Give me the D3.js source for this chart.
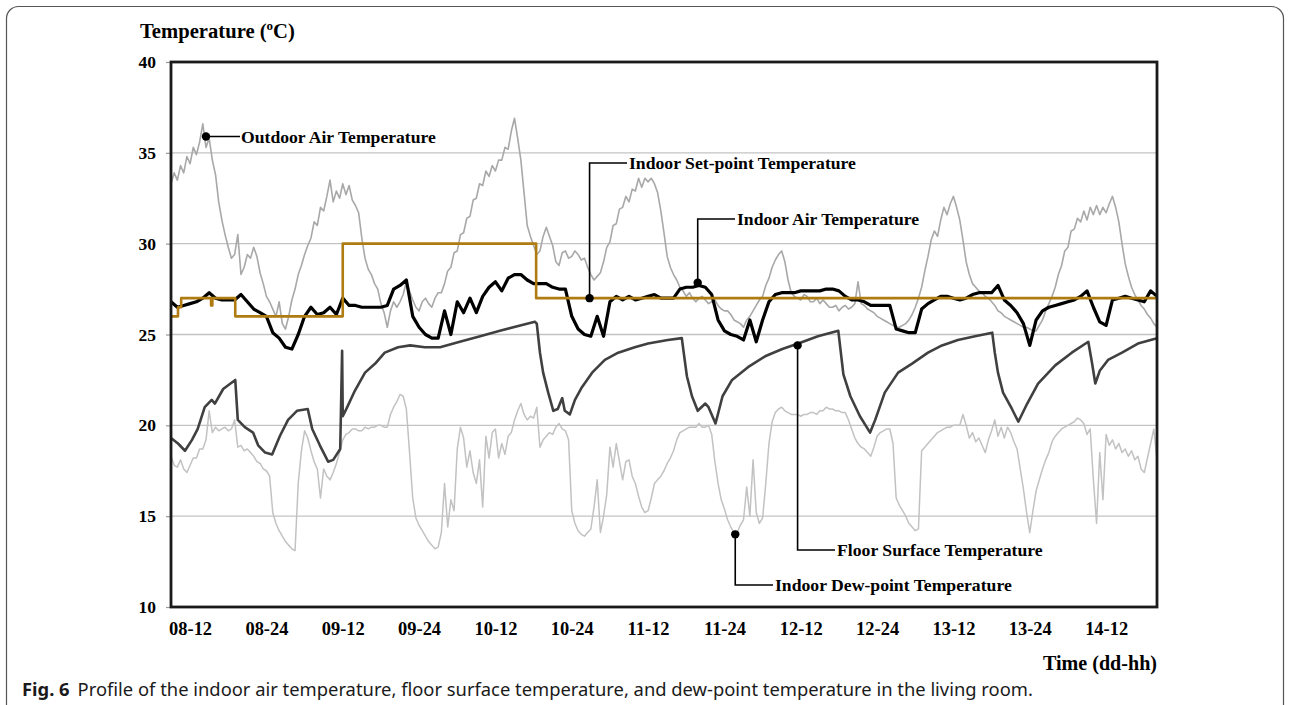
<!DOCTYPE html>
<html>
<head>
<meta charset="utf-8">
<script src="https://cdn.jsdelivr.net/npm/d3@7"></script>
<style>
  html, body { margin: 0; padding: 0; background: #ffffff; }
  svg { display: block; }
</style>
</head>
<body>
<svg id="chart" width="1290" height="705"></svg>
<script>
// ---------------- DATA ----------------
// hour 0 = day 08, 00h ; plotted span 08-09h .. 14-20h
const sampleStart = 9;
const sampleEnd = 164;

// outdoor air temperature, every 0.5 h from hour 9 to hour 164
const outdoorTemp = [
  33.3, 33.9, 33.5, 34.3, 33.9, 34.8, 34.4, 35.3, 34.9, 35.6, 36.6, 35.3,
  35.8, 34.6, 33.8, 32.3, 31.3, 30.5, 29.8, 29.2, 29.4, 30.5, 28.3, 28.7,
  29.4, 29.2, 29.8, 29.3, 28.4, 27.8, 27.1, 26.8, 26.4, 26.0, 26.8, 25.6,
  25.3, 26.0, 26.9, 27.5, 28.3, 28.8, 29.4, 29.9, 30.3, 31.2, 31.0, 32.0,
  31.8, 32.6, 33.5, 32.3, 32.9, 32.5, 33.3, 32.7, 33.2, 32.4, 32.1, 31.7,
  30.3, 29.2, 28.6, 28.3, 27.8, 27.5, 26.7, 26.2, 25.4, 26.3, 26.8, 26.5,
  26.8, 27.2, 27.9, 27.4, 26.9, 26.5, 26.3, 26.8, 27.0, 26.7, 26.5, 27.0,
  27.3, 27.3, 27.8, 28.5, 28.7, 29.5, 29.6, 30.5, 30.6, 31.4, 31.5, 32.4,
  32.5, 33.3, 33.2, 34.0, 33.7, 34.3, 34.0, 34.6, 34.6, 35.3, 35.2, 36.2,
  36.9, 35.8, 34.6, 32.8, 31.0, 30.4, 29.9, 29.4, 29.6, 30.4, 30.9, 30.4,
  29.9, 29.0, 28.8, 29.5, 29.6, 29.2, 29.3, 29.6, 29.4, 29.1, 29.2, 28.7,
  28.3, 28.0, 28.2, 28.4, 29.0, 29.8, 30.1, 31.0, 31.1, 31.9, 32.0, 32.6,
  32.3, 33.0, 32.9, 33.6, 33.1, 33.6, 33.4, 33.6, 33.3, 32.8, 31.8, 30.6,
  29.3, 28.7, 28.3, 28.0, 27.6, 27.4, 27.1, 27.3, 27.0, 26.8, 27.0, 27.1,
  26.9, 26.7, 26.8, 26.9, 26.6, 26.4, 26.3, 26.3, 26.1, 25.8, 25.7, 25.6,
  25.4, 25.8, 26.0, 26.3, 26.6, 26.9, 27.1, 27.7, 28.1, 28.7, 29.1, 29.4,
  29.6, 29.0, 28.0, 27.3, 27.1, 27.0, 26.9, 27.2, 27.1, 26.8, 26.8, 27.0,
  26.7, 26.9, 26.7, 26.5, 26.5, 26.6, 26.3, 26.5, 26.6, 26.4, 26.5, 26.7,
  27.9, 26.7, 26.6, 26.4, 26.3, 26.2, 26.0, 25.9, 25.8, 25.7, 25.6, 25.5,
  25.4, 25.4, 25.5, 25.6, 25.8, 26.1, 26.5, 27.0, 27.6, 28.5, 29.3, 30.2,
  30.7, 30.4, 31.3, 32.0, 31.6, 32.2, 32.6, 32.0, 31.3, 30.2, 29.0, 28.3,
  27.8, 27.6, 27.4, 27.3, 27.1, 27.0, 26.8, 26.6, 26.3, 26.2, 26.0, 25.9,
  25.8, 25.7, 25.6, 25.5, 25.4, 25.4, 25.3, 25.2, 25.2, 25.5, 25.8, 26.3,
  26.7, 27.1, 27.6, 28.3, 28.8, 29.6, 29.8, 30.7, 30.8, 31.4, 31.2, 31.8,
  31.3, 32.0, 31.6, 32.1, 31.6, 32.0, 31.7, 32.2, 32.6, 32.0, 31.2, 30.0,
  28.9, 28.2, 27.6, 27.2, 26.9, 26.6, 26.4, 26.1, 25.9, 25.6, 25.4
];

// indoor dew-point temperature, every 0.5 h from hour 9 to hour 164
const dewPointTemp = [
  18.3, 17.8, 17.7, 18.1, 17.6, 17.4, 17.8, 18.2, 18.2, 18.7, 18.7, 19.2,
  20.8, 19.6, 19.9, 19.7, 19.8, 19.9, 19.7, 19.8, 20.3, 18.8, 18.9, 18.6,
  18.7, 18.5, 18.3, 18.0, 17.9, 17.6, 17.5, 17.2, 15.2, 14.6, 14.2, 13.9,
  13.6, 13.4, 13.2, 13.1, 16.8, 18.6, 19.7, 19.3, 18.6, 18.0, 17.6, 16.0,
  17.6, 17.2, 17.0, 17.4, 17.9, 18.5, 19.2, 19.5, 19.6, 19.8, 19.8, 19.7,
  19.7, 19.9, 19.8, 19.9, 19.9, 20.0, 20.0, 19.9, 19.9, 20.6, 21.0, 21.3,
  21.7, 21.6, 20.9, 18.5, 16.0, 14.9, 14.5, 14.2, 13.9, 13.6, 13.4, 13.2,
  13.3, 14.1, 16.8, 14.4, 15.9, 15.3, 18.7, 19.9, 19.3, 17.7, 18.6, 17.4,
  16.8, 18.1, 15.5, 19.4, 18.2, 19.6, 19.8, 18.2, 19.0, 18.4, 19.4, 19.6,
  20.3, 20.8, 21.2, 20.6, 20.3, 20.5, 20.4, 21.0, 18.8, 19.2, 19.4, 19.6,
  19.5, 19.9, 20.1, 19.8, 19.7, 19.2, 15.3, 14.6, 14.2, 14.0, 13.9, 14.1,
  14.3, 15.5, 17.0, 14.1, 15.0, 16.2, 18.8, 17.7, 19.0, 18.0, 17.0, 18.0,
  18.1, 17.2, 16.8, 16.1, 15.5, 15.2, 15.3, 16.0, 16.8, 17.0, 17.2, 17.5,
  17.9, 18.2, 18.6, 19.2, 19.6, 19.7, 19.8, 19.9, 19.9, 19.9, 20.1, 19.9,
  19.9, 20.0, 19.5, 18.0, 16.8, 15.9, 15.4, 14.8, 14.4, 14.1, 14.1, 14.5,
  14.8, 16.6, 15.0, 18.1, 15.2, 14.6, 14.9, 16.8, 19.0, 20.2, 20.7, 20.9,
  21.0, 20.8, 20.7, 20.6, 20.6, 20.6, 20.5, 20.6, 20.6, 20.7, 20.7, 20.6,
  20.8, 20.8, 21.0, 20.9, 20.9, 20.8, 20.8, 20.7, 20.7, 20.3, 19.8, 19.3,
  19.0, 18.8, 18.7, 18.5, 18.3, 18.8, 19.4, 19.6, 19.7, 19.8, 19.8, 19.0,
  16.0, 15.6, 15.3, 15.0, 14.6, 14.4, 14.2, 14.3, 18.6, 18.8, 19.0, 19.2,
  19.4, 19.6, 19.7, 19.8, 19.9, 19.9, 20.0, 20.0, 20.0, 20.6, 20.0, 19.3,
  19.6, 19.1, 19.3, 18.9, 18.5, 19.2, 19.7, 20.3, 19.4, 19.9, 19.3, 19.9,
  19.6, 19.1, 18.7, 17.6, 16.5, 15.2, 14.1, 15.3, 16.4, 17.0, 17.6, 18.1,
  18.5, 19.1, 19.4, 19.6, 19.8, 19.9, 20.0, 20.1, 20.2, 20.4, 20.3, 20.1,
  19.5, 19.8, 17.0, 14.6, 18.5, 15.9, 19.5, 18.9, 19.2, 18.7, 19.0, 18.5,
  18.7, 18.3, 18.6, 18.1, 18.3, 17.6, 17.4, 18.2, 19.0, 19.8, 18.1
];

// indoor air temperature, hourly from hour 9 to hour 164
const indoorAirTemp = [
  26.8, 26.5, 26.6, 26.7, 26.8, 27.0, 27.3, 27.0, 26.9, 26.9, 26.9, 27.2,
  26.8, 26.4, 26.2, 26.0, 25.1, 24.8, 24.3, 24.2, 25.0, 26.0, 26.5, 26.1,
  26.2, 26.5, 26.1, 27.0, 26.6, 26.6, 26.5, 26.5, 26.5, 26.5, 26.6, 27.5,
  27.7, 28.0, 26.0, 25.4, 25.0, 24.8, 24.8, 26.3, 25.0, 26.8, 26.2, 27.0,
  26.2, 27.1, 27.6, 27.9, 27.4, 28.1, 28.3, 28.3, 28.0, 27.8, 27.8, 27.8,
  27.6, 27.5, 27.5, 26.0, 25.3, 25.0, 24.9, 26.0, 24.9, 26.8, 27.1, 26.9,
  27.1, 26.9, 27.0, 27.1, 27.2, 27.0, 27.0, 27.0, 27.5, 27.6, 27.6, 27.7,
  27.6, 27.2, 25.8, 25.2, 25.0, 24.9, 24.7, 25.8, 24.6, 25.8, 26.8, 27.2,
  27.3, 27.3, 27.3, 27.4, 27.4, 27.4, 27.4, 27.5, 27.5, 27.4, 27.1, 26.9,
  26.9, 26.8, 26.6, 26.6, 26.6, 26.6, 25.3, 25.2, 25.1, 25.1, 26.4, 26.7,
  26.9, 27.1, 27.1, 27.0, 26.9, 27.0, 27.2, 27.3, 27.3, 27.3, 27.7, 26.9,
  26.6, 26.2, 25.6, 24.4, 25.8, 26.3, 26.5, 26.6, 26.7, 26.8, 26.9, 27.1,
  27.4, 26.5, 25.7, 25.5, 26.9, 27.0, 27.1, 27.0, 26.9, 26.8, 27.4, 27.1
];

const floorHours = [
  9.0, 10.1, 11.2, 12.3, 13.2, 14.3, 15.4, 15.9, 17.2, 19.1, 19.5, 20.6, 21.9, 22.7, 23.8, 24.9,
  26.1, 27.4, 28.8, 30.5, 31.2, 32.4, 33.7, 34.5, 35.6, 35.9, 36.0, 36.7, 37.9, 39.5, 41.1, 42.6,
  44.7, 46.6, 48.9, 51.3, 54.4, 57.6, 60.7, 63.9, 66.2, 66.5, 67.0, 67.5, 68.3, 69.1, 69.8, 70.5,
  70.9, 71.7, 72.5, 73.6, 75.2, 77.2, 79.3, 81.9, 84.0, 87.1, 89.3, 89.6, 90.1, 90.9, 91.8, 93.0,
  93.5, 94.6, 95.7, 97.2, 99.7, 102.4, 105.1, 107.6, 110.7, 113.9, 114.2, 114.7, 115.8, 117.3, 118.9, 119.7,
  121.2, 123.3, 125.5, 128.0, 130.2, 132.7, 135.4, 138.1, 138.5, 139.0, 139.8, 141.2, 142.2, 143.6, 145.3, 148.0,
  150.6, 153.2, 153.8, 154.3, 155.0, 156.3, 158.5, 161.0, 164.0
];
const floorTemp = [
  19.3, 19.0, 18.6, 19.2, 19.8, 21.0, 21.4, 21.2, 22.0, 22.5, 20.3, 19.9, 19.6, 18.9, 18.5, 18.4,
  19.4, 20.3, 20.8, 20.9, 19.8, 18.9, 18.0, 18.1, 18.7, 24.1, 20.5, 21.0, 21.9, 22.9, 23.4, 24.0,
  24.3, 24.4, 24.3, 24.3, 24.6, 24.9, 25.2, 25.5, 25.7, 25.6, 24.0, 22.9, 21.8, 20.8, 20.9, 21.5,
  20.8, 20.6, 21.4, 22.1, 22.9, 23.6, 24.0, 24.3, 24.5, 24.7, 24.8, 24.0, 22.7, 21.6, 20.8, 21.2,
  21.0, 20.1, 21.6, 22.5, 23.2, 23.8, 24.2, 24.5, 24.9, 25.2, 24.3, 22.8, 21.6, 20.5, 19.6, 20.3,
  21.8, 22.9, 23.4, 24.0, 24.4, 24.7, 24.9, 25.1, 24.0, 22.9, 21.8, 20.9, 20.2, 21.2, 22.3, 23.3,
  24.0, 24.6, 23.4, 22.3, 23.0, 23.6, 24.0, 24.5, 24.8
];

const setPointHours = [9, 10.1, 10.6, 15.3, 15.5, 19.1, 36.0, 66.4, 164];
const setPointTemp  = [26, 26.5, 27, 26.6, 27, 26, 30, 27, 27];

const yTickValues = [10, 15, 20, 25, 30, 35, 40];
const xTickHours  = [12, 24, 36, 48, 60, 72, 84, 96, 108, 120, 132, 144, 156];
const xTickLabels = ["08-12", "08-24", "09-12", "09-24", "10-12", "10-24", "11-12",
                     "11-24", "12-12", "12-24", "13-12", "13-24", "14-12"];

const seriesNames = ["Outdoor Air Temperature", "Indoor Set-point Temperature",
  "Indoor Air Temperature", "Floor Surface Temperature", "Indoor Dew-point Temperature"];

// ---------------- LAYOUT ----------------
(function () {
const svg = d3.select("#chart");
const pLeft = 171, pRight = 1157, pTop = 62, pBottom = 607;
const serif = "'Liberation Serif', 'Times New Roman', Times, serif";
const sans = "'Noto Sans', 'Open Sans', Arial, sans-serif";

const x = d3.scaleLinear().domain([sampleStart, sampleEnd]).range([pLeft, pRight]);
const y = d3.scaleLinear().domain([10, 40]).range([pBottom, pTop]);

function fitWidth(sel, w) {
  const cur = sel.node().getComputedTextLength();
  const fs = parseFloat(sel.attr("font-size"));
  const nfs = fs * w / cur;
  sel.attr("font-size", nfs.toFixed(2));
  return nfs;
}

// outer rounded frame
svg.append("rect").attr("x", 6.5).attr("y", 6.5).attr("width", 1277).attr("height", 740)
  .attr("rx", 12).attr("fill", "none").attr("stroke", "#555").attr("stroke-width", 1.2);

// gridlines
svg.append("g").selectAll("line").data(yTickValues.filter(v => v > 10 && v < 40)).join("line")
  .attr("x1", pLeft).attr("x2", pRight)
  .attr("y1", d => y(d)).attr("y2", d => y(d))
  .attr("stroke", "#c3c3c3").attr("stroke-width", 1.3);

// y axis
const yAxis = svg.append("g").attr("transform", `translate(${pLeft},0)`)
  .call(d3.axisLeft(y).tickValues(yTickValues).tickSize(5).tickPadding(10));
yAxis.select(".domain").remove();
yAxis.selectAll(".tick line").attr("stroke", "#999").attr("stroke-width", 1.2);
yAxis.selectAll(".tick text").attr("font-family", serif).attr("font-weight", "bold")
  .attr("font-size", 17.5).attr("fill", "#000");

// x labels
const xAxis = svg.append("g").attr("transform", `translate(0,${pBottom})`)
  .call(d3.axisBottom(x).tickValues(xTickHours).tickFormat((d, i) => xTickLabels[i]).tickSize(0).tickPadding(15));
xAxis.select(".domain").remove();
const xl = xAxis.selectAll(".tick text").attr("font-family", serif).attr("font-weight", "bold")
  .attr("font-size", 17).attr("fill", "#000");
const xfs = fitWidth(d3.select(xl.nodes()[0]), 43);
xl.attr("font-size", xfs.toFixed(2));

// ---------------- SERIES ----------------
const hourly = d3.range(sampleStart, sampleEnd + 1);
const halfHourly = d3.range(sampleStart * 2, sampleEnd * 2 + 1).map(v => v / 2);
const plot = svg.append("g");

function drawSeries(hours, vals, color, width, curve) {
  const gen = d3.line().x(d => x(d[0])).y(d => y(d[1])).curve(curve || d3.curveLinear);
  plot.append("path")
    .datum(hours.map((h, i) => [h, vals[i]]))
    .attr("d", gen)
    .attr("fill", "none").attr("stroke", color).attr("stroke-width", width)
    .attr("stroke-linejoin", "round");
}
drawSeries(halfHourly, outdoorTemp, "#a8a8a8", 1.6);
drawSeries(halfHourly, dewPointTemp, "#c2c2c2", 1.5);
drawSeries(floorHours, floorTemp, "#404040", 2.6);
drawSeries(hourly, indoorAirTemp, "#000000", 3.2);
drawSeries(setPointHours, setPointTemp, "#b07b10", 2.6, d3.curveStepAfter);

// plot frame
svg.append("rect").attr("x", pLeft).attr("y", pTop).attr("width", pRight - pLeft).attr("height", pBottom - pTop)
  .attr("fill", "none").attr("stroke", "#1a1a1a").attr("stroke-width", 2.8);

// ---------------- ANNOTATIONS ----------------
// [series index, anchor hour, anchor temp, elbow y (px) or null, label x, label y, label width]
const notes = [
  [0, 14.5, 35.9, null, 241, 137, 195],
  [1, 74.8, 27.0, 163, 629, 163, 227],
  [2, 91.8, 27.85, 219, 737, 219, 182],
  [3, 107.5, 24.4, 550, 837, 550, 206],
  [4, 97.7, 14.0, 585, 775, 585, 237]
];
const ann = svg.append("g");
notes.forEach(n => {
  const ax = x(n[1]), ay = y(n[2]);
  let pts;
  if (n[3] === null) pts = [[ax, ay], [n[4] - 1, ay]];
  else pts = [[ax, ay], [ax, n[3]], [n[4] - 2, n[3]]];
  ann.append("path").attr("d", d3.line()(pts)).attr("fill", "none")
    .attr("stroke", "#000").attr("stroke-width", 1.6);
  ann.append("circle").attr("cx", ax).attr("cy", ay).attr("r", 4.2).attr("fill", "#000");
  const t = ann.append("text").attr("x", n[4]).attr("y", n[5]).attr("dy", "0.34em")
    .attr("font-family", serif).attr("font-weight", "bold").attr("font-size", 17)
    .text(seriesNames[n[0]]);
  fitWidth(t, n[6]);
});

// y title
const yt = svg.append("text").attr("x", 140).attr("y", 37.5)
  .attr("font-family", serif).attr("font-weight", "bold").attr("font-size", 19);
yt.append("tspan").text("Temperature  (");
yt.append("tspan").attr("font-size", 12).attr("dy", -7).text("o");
yt.append("tspan").attr("dy", 7).text("C)");
const ytw = yt.node().getComputedTextLength();
const ytScale = 155 / ytw;
yt.attr("font-size", (19 * ytScale).toFixed(2));
yt.selectAll("tspan").filter((d, i) => i === 1).attr("font-size", (12 * ytScale).toFixed(2))
  .attr("dy", (-7 * ytScale).toFixed(2));
yt.selectAll("tspan").filter((d, i) => i === 2).attr("dy", (7 * ytScale).toFixed(2));

// x title
const xt = svg.append("text").attr("x", pRight).attr("y", 670).attr("text-anchor", "end")
  .attr("font-family", serif).attr("font-weight", "bold").attr("font-size", 18)
  .text("Time (dd-hh)");
fitWidth(xt, 114);

// caption
const cap = svg.append("text").attr("x", 22).attr("y", 696)
  .attr("font-family", sans).attr("font-size", 16).attr("fill", "#1a1a1a");
cap.append("tspan").attr("font-weight", "bold").text("Fig. 6");
cap.append("tspan").attr("dx", 8).text("Profile of the indoor air temperature, floor surface temperature, and dew-point temperature in the living room.");
fitWidth(cap, 1003);
})();
</script>
</body>
</html>
